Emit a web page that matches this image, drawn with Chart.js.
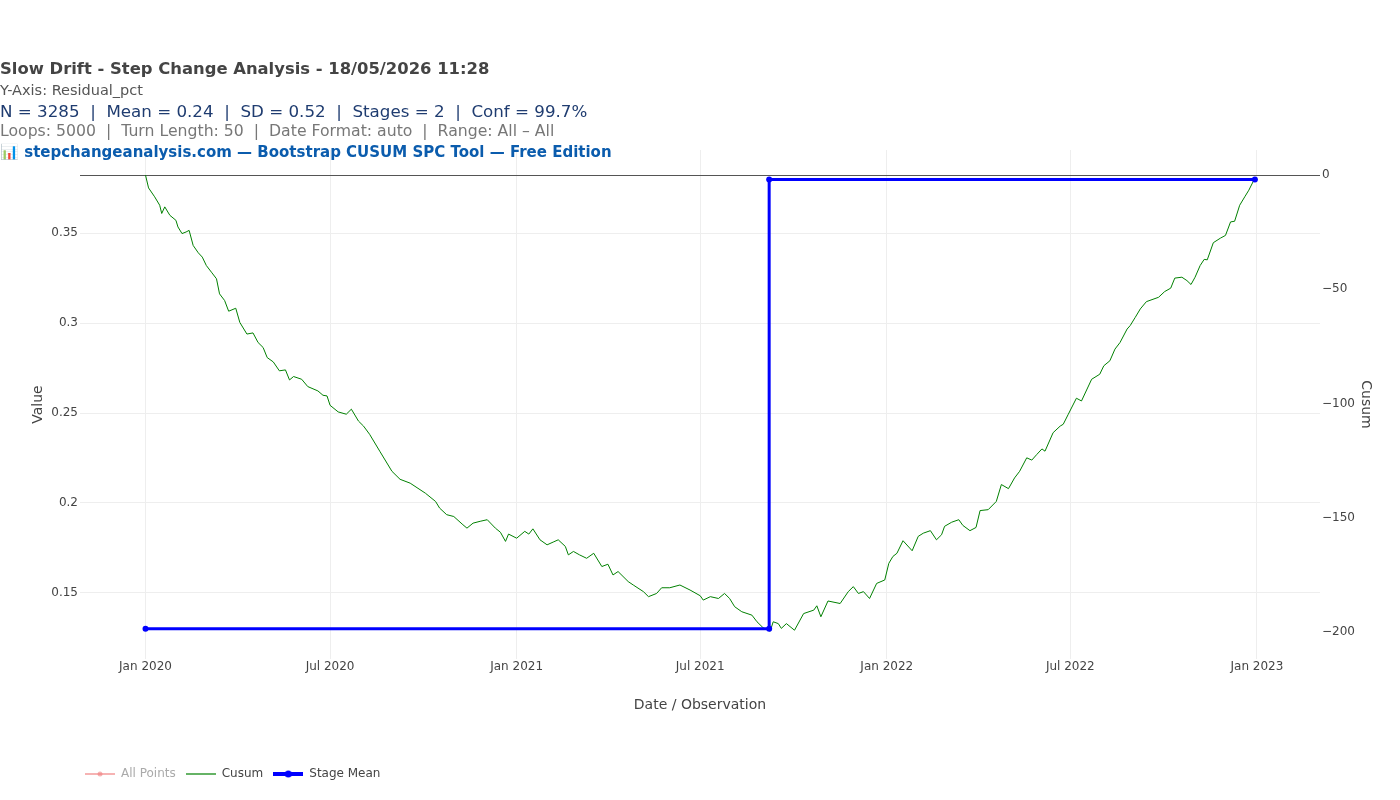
<!DOCTYPE html>
<html>
<head>
<meta charset="utf-8">
<title>Slow Drift - Step Change Analysis</title>
<script src="https://cdn.jsdelivr.net/npm/chart.js@4.4.1/dist/chart.umd.min.js"></script>
<style>
  html, body { margin: 0; padding: 0; background: #fff; }
  #wrap { position: relative; width: 1400px; height: 800px; font-family: "DejaVu Sans", Verdana, sans-serif; }
  #wrap canvas { position: absolute; left: 0; top: 0; }
  .hd { position: absolute; left: 0; white-space: nowrap; line-height: 20px; }
  #t1 { top: 59px; font-size: 16.4px; font-weight: bold; color: #444; }
  #t2 { top: 80px; font-size: 14.5px; color: #555; }
  #t3 { top: 101px; font-size: 16.7px; color: #1f3c70; }
  #t4 { top: 121px; font-size: 15.7px; color: #777; }
  #t5 { top: 142px; font-size: 15px; font-weight: bold; color: #0b5cad; }
</style>
</head>
<body>
<div id="wrap">
  <canvas id="chart" width="1400" height="800"></canvas>
  <div class="hd" id="t1">Slow Drift - Step Change Analysis - 18/05/2026 11:28</div>
  <div class="hd" id="t2">Y-Axis: Residual_pct</div>
  <div class="hd" id="t3">N = 3285 &nbsp;|&nbsp; Mean = 0.24 &nbsp;|&nbsp; SD = 0.52 &nbsp;|&nbsp; Stages = 2 &nbsp;|&nbsp; Conf = 99.7%</div>
  <div class="hd" id="t4">Loops: 5000 &nbsp;|&nbsp; Turn Length: 50 &nbsp;|&nbsp; Date Format: auto &nbsp;|&nbsp; Range: All – All</div>
  <div class="hd" id="t5">📊 stepchangeanalysis.com — Bootstrap CUSUM SPC Tool — Free Edition</div>
</div>
<script>
// x values are days counted from 1 Jan 2020
const xTickDays = [0, 182, 366, 547, 731, 912, 1096];
const xTickLabels = ["Jan 2020", "Jul 2020", "Jan 2021", "Jul 2021", "Jan 2022", "Jul 2022", "Jan 2023"];

const yTicks = [0.15, 0.2, 0.25, 0.3, 0.35];
const y2Ticks = [0, -50, -100, -150, -200];

// stage mean (left axis)
const stageDay = [0, 615, 615, 1094];
const stageMean = [0.13, 0.13, 0.38, 0.38];

// cusum (right axis)
const cusumDay = [
  0, 3, 9, 14, 16, 19, 24, 30, 32, 36, 40, 43, 47, 52, 56, 60, 65, 70, 73, 78,
  82, 89, 93, 100, 106, 111, 116, 120, 126, 132, 138, 142, 146, 154, 160, 170, 175, 179, 182, 190,
  198, 203, 210, 215, 221, 231, 243, 251, 261, 276, 286, 290, 297, 304, 313, 317, 323, 330, 337, 345,
  350, 355, 358, 366, 374, 378, 382, 389, 396, 402, 407, 414, 417, 422, 428, 435, 442, 450, 456, 461,
  466, 476, 481, 491, 496, 504, 509, 517, 527, 537, 547, 550, 557, 565, 571, 576, 581, 588, 598, 603,
  609, 616, 619, 624, 627, 632, 640, 649, 659, 662, 666, 673, 685, 693, 698, 703, 708, 714, 721, 729,
  733, 737, 741, 747, 756, 762, 767, 774, 780, 785, 788, 795, 802, 806, 813, 819, 823, 831, 839, 844,
  851, 857, 862, 869, 874, 879, 884, 887, 895, 902, 905, 910, 918, 923, 933, 941, 945, 951, 956, 961,
  968, 971, 976, 981, 987, 999, 1005, 1011, 1015, 1022, 1027, 1031, 1035, 1040, 1044, 1047, 1053, 1060, 1065, 1070,
  1074, 1079, 1084, 1088, 1093, 1094
];
const cusumValue = [
  0, -5.6, -9.5, -13.2, -16.8, -13.9, -17.6, -19.8, -22.7, -25.6, -24.9, -24.2, -30.8, -34.0, -35.9, -39.6, -42.5, -45.4, -52.0, -54.9,
  -59.6, -58.3, -64.5, -69.6, -69.1, -73.3, -75.5, -79.9, -81.8, -85.7, -85.3, -89.7, -88.2, -89.4, -92.6, -94.5, -96.4, -96.7, -100.8, -103.7,
  -104.7, -102.5, -107.7, -109.9, -113.5, -120.9, -129.7, -133.2, -134.9, -139.3, -142.9, -145.8, -148.7, -149.5, -153.1, -154.6, -152.4, -151.6, -150.9, -154.6,
  -156.4, -160.4, -157.2, -159.0, -156.0, -157.2, -154.9, -159.7, -161.9, -160.7, -159.7, -162.6, -166.3, -164.8, -166.3, -167.8, -165.6, -171.4, -170.4, -175.1,
  -173.6, -178.0, -179.5, -182.4, -184.6, -183.2, -180.7, -180.7, -179.5, -181.7, -184.2, -186.1, -184.6, -185.4, -183.2, -185.4, -189.0, -191.2, -192.7, -195.6,
  -198.2, -199.7, -195.6, -196.4, -198.5, -196.4, -199.3, -192.0, -190.5, -188.6, -193.4, -186.5, -187.6, -182.4, -180.2, -183.2, -182.4, -185.4, -178.8, -177.3,
  -170.0, -167.0, -165.6, -160.1, -164.5, -158.2, -156.8, -155.7, -159.7, -157.5, -153.8, -152.0, -150.9, -153.4, -155.7, -154.3, -146.9, -146.5, -142.9, -135.5,
  -137.3, -132.6, -129.7, -123.8, -124.8, -122.3, -119.9, -120.9, -112.8, -109.9, -109.1, -104.7, -97.7, -98.9, -89.4, -87.2, -83.5, -81.3, -76.2, -73.3,
  -67.4, -65.9, -62.3, -58.6, -55.4, -53.5, -51.0, -49.5, -45.1, -44.7, -46.2, -47.9, -44.7, -39.6, -36.9, -37.1, -29.6, -27.6, -26.4, -20.5,
  -20.2, -13.2, -9.5, -6.6, -2.2, -1.2
];

function legendIcon(color, width, dot)
{
  const c = document.createElement("canvas");
  c.width = 30;
  c.height = 10;
  const g = c.getContext("2d");
  g.strokeStyle = color;
  g.lineWidth = width;
  g.beginPath();
  g.moveTo(0, 5);
  g.lineTo(30, 5);
  g.stroke();
  if (dot)
  {
    g.fillStyle = color;
    g.beginPath();
    g.arc(15, 5, dot, 0, Math.PI * 2);
    g.fill();
  }
  return c;
}

const icons =
{
  all: legendIcon("rgba(240,128,128,0.6)", 2, 2.5),
  cusum: legendIcon("rgba(0,128,0,0.6)", 2, 0),
  stage: legendIcon("#0000ff", 4, 3.5)
};

const fontTick = { family: "'DejaVu Sans', Verdana, sans-serif", size: 12 };
const fontTitle = { family: "'DejaVu Sans', Verdana, sans-serif", size: 14 };

// nudge the legend a little left so it lines up under the plot like the original
const legendShift =
{
  id: "legendShift",
  afterLayout: c => { if (c.legend) c.legend.left -= 5; }
};

new Chart(document.getElementById("chart"),
{
  type: "line",
  plugins: [legendShift],
  data:
  {
    datasets: [
    {
      label: "All Points",
      data: [],
      borderColor: "rgba(240,128,128,0.6)",
      pointRadius: 0
    },
    {
      label: "Cusum",
      yAxisID: "y2",
      data: cusumDay.map((d, i) => ({ x: d, y: cusumValue[i] })),
      borderColor: "green",
      borderWidth: 1,
      pointRadius: 0,
      tension: 0,
      order: 2
    },
    {
      label: "Stage Mean",
      yAxisID: "y",
      data: stageDay.map((d, i) => ({ x: d, y: stageMean[i] })),
      borderColor: "#0000ff",
      backgroundColor: "#0000ff",
      borderWidth: 3,
      pointRadius: 3,
      pointHoverRadius: 3,
      pointBackgroundColor: "#0000ff",
      pointBorderWidth: 0,
      tension: 0,
      order: 1
    }]
  },
  options:
  {
    responsive: false,
    animation: false,
    layout: { padding: { top: 150, left: 0, right: 0, bottom: 10 } },
    plugins:
    {
      tooltip: { enabled: false },
      legend:
      {
        position: "bottom",
        align: "start",
        fullSize: false,
        onClick: null,
        labels:
        {
          usePointStyle: true,
          pointStyleWidth: 30,
          boxHeight: 10,
          padding: 10,
          color: "#444",
          font: fontTick,
          generateLabels: () => [
            { text: "All Points", pointStyle: icons.all, fontColor: "#aaa", hidden: false, lineWidth: 0, strokeStyle: "transparent", fillStyle: "transparent", datasetIndex: 0 },
            { text: "Cusum", pointStyle: icons.cusum, fontColor: "#444", hidden: false, lineWidth: 0, strokeStyle: "transparent", fillStyle: "transparent", datasetIndex: 1 },
            { text: "Stage Mean", pointStyle: icons.stage, fontColor: "#444", hidden: false, lineWidth: 0, strokeStyle: "transparent", fillStyle: "transparent", datasetIndex: 2 }
          ]
        }
      }
    },
    scales:
    {
      x:
      {
        type: "linear",
        min: -64.6,
        max: 1158.2,
        afterBuildTicks: s => { s.ticks = xTickDays.map(v => ({ value: v })); },
        afterFit: s => { s.height = 99; },
        ticks:
        {
          autoSkip: false,
          maxRotation: 0,
          padding: 1,
          color: "#444",
          font: fontTick,
          callback: v => xTickLabels[xTickDays.indexOf(v)]
        },
        grid: { color: "#eee", drawTicks: false },
        border: { display: false },
        title:
        {
          display: true,
          text: "Date / Observation",
          color: "#444",
          font: fontTitle,
          padding: { top: 0, bottom: 44 }
        }
      },
      y:
      {
        position: "left",
        min: 0.1131,
        max: 0.3964,
        afterBuildTicks: s => { s.ticks = yTicks.map(v => ({ value: v })); },
        afterFit: s => { s.width = 80; },
        ticks:
        {
          padding: 2,
          color: "#444",
          font: fontTick,
          callback: v => String(Math.round(v * 100) / 100)
        },
        grid: { color: "#eee", drawTicks: false },
        border: { display: false },
        title:
        {
          display: true,
          text: "Value",
          color: "#444",
          font: fontTitle,
          padding: { top: 30, bottom: 0 }
        }
      },
      y2:
      {
        position: "right",
        min: -211.9,
        max: 11,
        afterBuildTicks: s => { s.ticks = y2Ticks.map(v => ({ value: v })); },
        afterFit: s => { s.width = 80; },
        ticks:
        {
          padding: 2,
          color: "#444",
          font: fontTick,
          callback: v => v === 0 ? "0" : "\u2212" + Math.abs(v)
        },
        grid:
        {
          drawTicks: false,
          color: c => c.tick && c.tick.value === 0 ? "#555" : "rgba(0,0,0,0)",
          lineWidth: 1
        },
        border: { display: false },
        title:
        {
          display: true,
          text: "Cusum",
          color: "#444",
          font: fontTitle,
          padding: { top: 26, bottom: 0 }
        }
      }
    }
  }
});
</script>
</body>
</html>
